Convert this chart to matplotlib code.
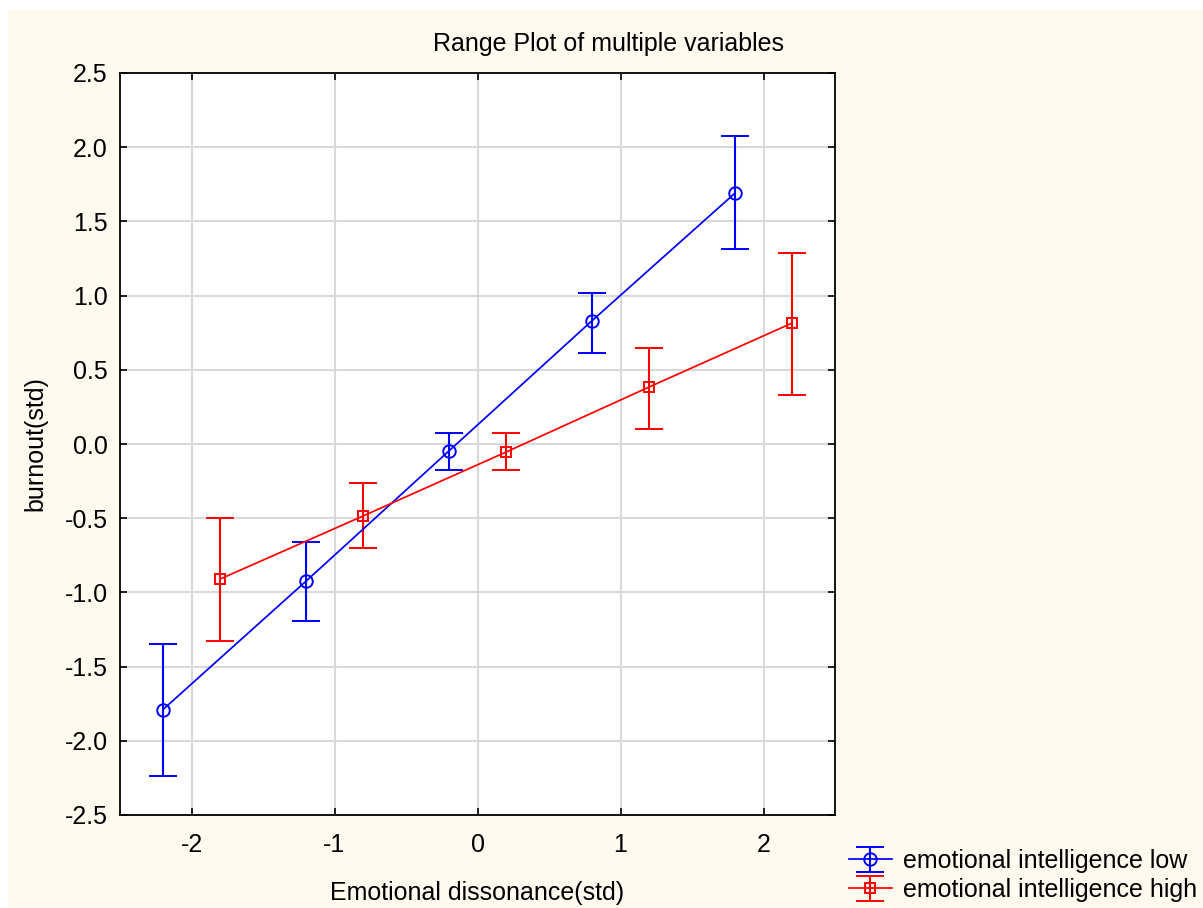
# Range plot of burnout vs emotional dissonance

import matplotlib.pyplot as plt
from matplotlib.patches import Rectangle

plt.rcParams['font.family'] = ['Liberation Sans', 'DejaVu Sans']

x_low = [-2.2, -1.2, -0.2, 0.8, 1.8]
mean_low = [-1.79, -0.925, -0.047, 0.83, 1.69]
lower_low = [-2.24, -1.19, -0.175, 0.61, 1.313]
upper_low = [-1.35, -0.66, 0.074, 1.02, 2.074]

x_high = [-1.8, -0.8, 0.2, 1.2, 2.2]
mean_high = [-0.91, -0.485, -0.054, 0.384, 0.815]
lower_high = [-1.33, -0.70, -0.175, 0.10, 0.33]
upper_high = [-0.50, -0.26, 0.074, 0.65, 1.29]

x_ticks = [-2, -1, 0, 1, 2]
y_ticks = [-2.5, -2.0, -1.5, -1.0, -0.5, 0.0, 0.5, 1.0, 1.5, 2.0, 2.5]

cream = '#FFFAEF'
fs = 18

fig = plt.figure(figsize=(12.03, 9.08), dpi=100, facecolor='white')
fig.patches.append(Rectangle((8 / 1203, 0), 1, 1 - 9 / 908, transform=fig.transFigure,
                             facecolor=cream, edgecolor='none', zorder=-10))

ax = fig.add_axes([120 / 1203, 1 - 815 / 908, 715 / 1203, 742 / 908])
ax.set_facecolor('white')


def err(mean, lo, hi):
    return [[m - l for m, l in zip(mean, lo)], [h - m for m, h in zip(mean, hi)]]


ax.errorbar(x_low, mean_low, yerr=err(mean_low, lower_low, upper_low), color='#0000FF',
            marker='o', markersize=9, markerfacecolor='none', markeredgewidth=1.4,
            linewidth=1.25, capsize=10, capthick=1.5, elinewidth=1.5,
            label='emotional intelligence low', zorder=3)
ax.errorbar(x_high, mean_high, yerr=err(mean_high, lower_high, upper_high), color='#FF0000',
            marker='s', markersize=7.5, markerfacecolor='none', markeredgewidth=1.4,
            linewidth=1.25, capsize=10, capthick=1.5, elinewidth=1.5,
            label='emotional intelligence high', zorder=3)

ax.set_xlim(-2.5, 2.5)
ax.set_ylim(-2.5, 2.5)
ax.set_xticks(x_ticks)
ax.set_xticklabels([str(t) for t in x_ticks])
ax.set_yticks(y_ticks)
ax.set_yticklabels([f'{t:.1f}' for t in y_ticks])
ax.grid(True, color='#D9D9D9', linewidth=1.5, zorder=0)
ax.set_axisbelow(True)
ax.tick_params(direction='in', top=True, right=True, length=5, width=1.2, labelsize=fs)
ax.tick_params(axis='x', pad=13)
ax.tick_params(axis='y', pad=9)
for s in ax.spines.values():
    s.set_linewidth(1.3)

ax.set_xlabel('Emotional dissonance(std)', fontsize=fs, labelpad=17)
ax.set_ylabel('burnout(std)', fontsize=fs, labelpad=12)
fig.text(0.506, 1 - 44 / 908, 'Range Plot of multiple variables', fontsize=fs,
         ha='center', va='center')

fig.legend(loc='lower left', bbox_to_anchor=(849 / 1203, 6 / 908), frameon=False,
           fontsize=fs, handlelength=1.7, handletextpad=0.45, labelspacing=0.2,
           borderaxespad=0, borderpad=0)

fig.savefig('out.png', dpi=100, facecolor=fig.get_facecolor())
